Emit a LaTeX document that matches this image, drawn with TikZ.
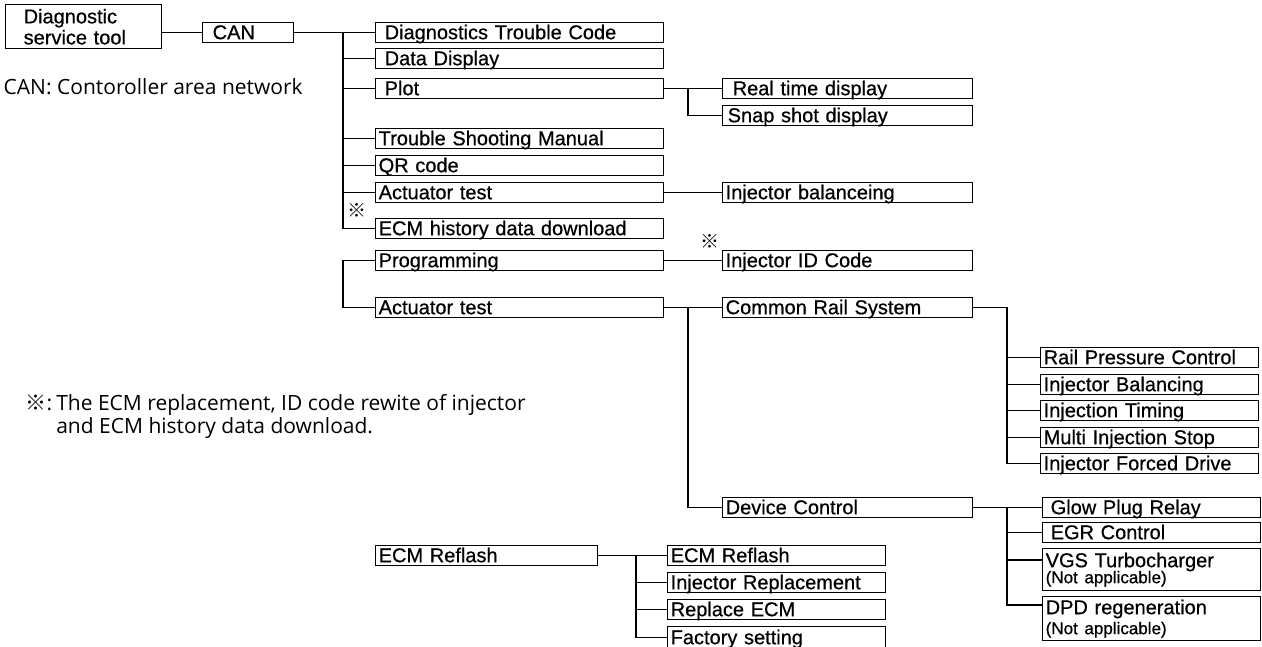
\documentclass[tikz,border=0pt]{standalone}
\usepackage{fontspec}
\setmainfont{Liberation Sans}
\newfontfamily\boxfont{Liberation Sans}[FakeBold=0.6]
\newfontfamily\notefont{Open Sans}
\newfontfamily\cjk{Noto Sans CJK JP}
\tikzset{
  box/.style={draw, anchor=north west, inner xsep=3pt, inner ysep=1pt,
    text height=15.5pt, text depth=2.5pt, align=left,
    font=\boxfont\fontsize{20}{22}\selectfont},
  canbox/.style={box, text width=85pt},
  midbox/.style={box, text width=282pt},
  rightbox/.style={box, text width=244pt},
  farbox/.style={box, text width=212pt},
  flashbox/.style={box, text width=216pt},
  tallbox/.style={draw, anchor=north west, inner xsep=3pt, inner ysep=2pt,
    text width=212pt, align=left, font=\boxfont\fontsize{20}{22}\selectfont},
  notebox/.style={inner sep=0pt, font=\notefont\fontsize{21}{22}\selectfont},
  refmark/.style={inner sep=0pt, font=\cjk\fontsize{19}{19}\selectfont}
}
\begin{document}
\begin{tikzpicture}[x=1pt, y=-1pt, line width=1.4pt]
  \useasboundingbox (0,0) rectangle (1262,646);
  % Tool and CAN
  \node[draw, anchor=north west, inner xsep=18pt, inner ysep=1pt, text width=120pt,
    align=left, minimum height=44pt, font=\boxfont\fontsize{20}{21}\selectfont]
    (diag) at (5,4) {Diagnostic\\service tool};
  \node[canbox] (can) at (202,22) {\hspace{7pt}CAN};
  \node[notebox, anchor=west] (cannote) at (3,87) {CAN: Contoroller area network};

  % First column
  \node[midbox] (dtc) at (375,22) {\hspace{6pt}Diagnostics Trouble Code};
  \node[midbox] (dd) at (375,48) {\hspace{6pt}Data Display};
  \node[midbox] (plot) at (375,78) {\hspace{6pt}Plot};
  \node[midbox] (tsm) at (375,128) {Trouble Shooting Manual};
  \node[midbox] (qr) at (375,155) {QR code};
  \node[midbox] (act) at (375,182) {Actuator test};
  \node[midbox] (hist) at (375,218) {ECM history data download};
  \node[refmark] (histmark) at (357,210) {※};
  \node[midbox] (prog) at (375,250) {Programming};
  \node[midbox] (act2) at (375,297) {Actuator test};

  % Second column
  \node[rightbox] (rtd) at (722,78) {\hspace{7pt}Real time display};
  \node[rightbox] (snap) at (722,105) {\hspace{2pt}Snap shot display};
  \node[rightbox] (bal) at (722,182) {Injector balanceing};
  \node[rightbox] (injid) at (722,250) {Injector ID Code};
  \node[refmark] (idmark) at (710,241) {※};
  \node[rightbox] (crs) at (722,297) {Common Rail System};
  \node[rightbox] (devc) at (722,497) {Device Control};

  % Common rail items
  \node[farbox] (rp) at (1040,347) {Rail Pressure Control};
  \node[farbox] (ib) at (1040,374) {Injector Balancing};
  \node[farbox] (it) at (1040,400) {Injection Timing};
  \node[farbox] (mis) at (1040,427) {Multi Injection Stop};
  \node[farbox] (ifd) at (1040,453) {Injector Forced Drive};

  % Device control items
  \node[farbox] (glow) at (1042,497) {\hspace{5pt}Glow Plug Relay};
  \node[farbox] (egr) at (1042,522) {\hspace{5pt}EGR Control};
  \node[tallbox, minimum height=42pt] (vgs) at (1042,548)
    {VGS Turbocharger\\[-6pt]{\fontsize{17}{17}\selectfont(Not applicable)}};
  \node[tallbox, minimum height=44pt] (dpd) at (1042,596)
    {DPD regeneration\\[-2pt]{\fontsize{17}{17}\selectfont(Not applicable)}};
  \coordinate (vgsin) at ([yshift=-12pt]vgs.north west);
  \coordinate (dpdin) at ([yshift=-9pt]dpd.north west);

  % Reflash
  \node[flashbox] (ecml) at (375,545) {ECM Reflash};
  \node[farbox] (ecmr) at (667,545) {ECM Reflash};
  \node[farbox] (injr) at (667,572) {Injector Replacement};
  \node[farbox] (rece) at (667,599) {Replace ECM};
  \node[farbox, minimum height=22pt] (fact) at (667,626) {Factory setting};

  % Note
  \node[notebox, anchor=north west] (refnote) at (25,394)
    {\begin{tabular}{@{}l@{\hspace{4pt}}l@{}}
      {\cjk ※}: & The ECM replacement, ID code rewite of injector\\
      & and ECM history data download.
    \end{tabular}};

  % Junctions
  \coordinate (trunk) at (343,0);
  \coordinate (midj) at (688,0);
  \coordinate (farj) at (1007,0);
  \coordinate (flashj) at (636,0);

  % Connectors
  \draw (diag.east |- can.west) -- (can.west);
  \draw (can.east) -- (dtc.west);
  \draw (trunk |- dtc.west) |- (hist.west);
  \foreach \n in {dd,plot,tsm,qr,act}
    \draw (trunk |- \n.west) -- (\n.west);
  \draw (plot.east) -- (rtd.west);
  \draw (midj |- plot.east) |- (snap.west);
  \draw (act.east) -- (bal.west);
  \draw (prog.west) -| (trunk |- act2.west) -- (act2.west);
  \draw (prog.east) -- (injid.west);
  \draw (act2.east) -- (crs.west);
  \draw (midj |- act2.east) |- (devc.west);
  \draw (crs.east) -| (farj |- ifd.west) -- (ifd.west);
  \foreach \n in {rp,ib,it,mis}
    \draw (farj |- \n.west) -- (\n.west);
  \draw (devc.east) -- (glow.west);
  \draw (farj |- devc.east) |- (dpdin);
  \draw (farj |- egr.west) -- (egr.west);
  \draw (farj |- vgsin) -- (vgsin);
  \draw (ecml.east) -- (ecmr.west);
  \draw (flashj |- ecmr.west) |- (fact.west);
  \foreach \n in {injr,rece}
    \draw (flashj |- \n.west) -- (\n.west);
\end{tikzpicture}
\end{document}
